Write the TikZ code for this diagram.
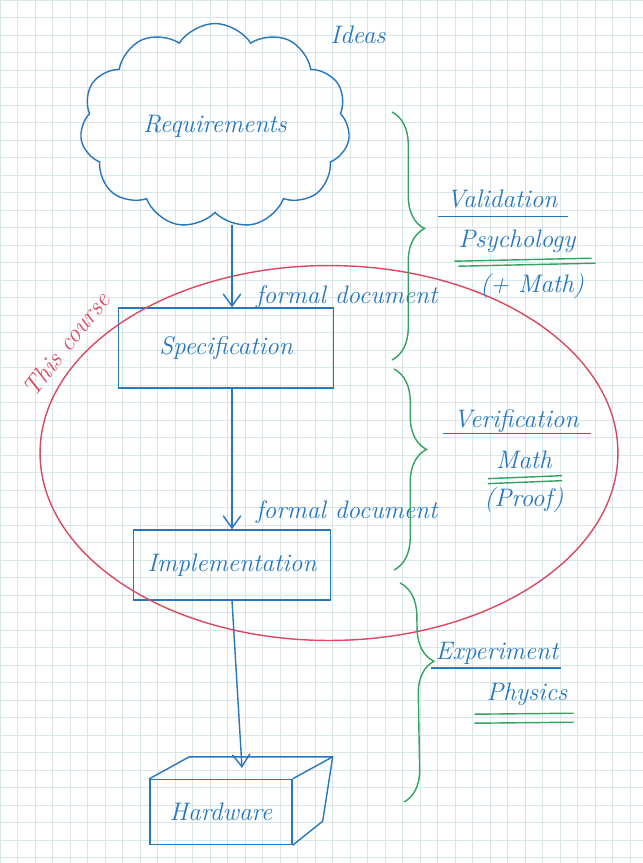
\documentclass[tikz,border=0pt]{standalone}
\usetikzlibrary{shapes.symbols,shapes.geometric,arrows.meta,decorations.pathreplacing,calc}
\definecolor{ink}{RGB}{38,118,192}
\definecolor{redink}{RGB}{218,72,98}
\definecolor{greenink}{RGB}{52,162,96}
\definecolor{paper}{RGB}{216,230,232}
\begin{document}
\begin{tikzpicture}[x=0.02cm,y=-0.02cm,
    pen/.style={draw=ink,thick},
    arr/.style={ink,thick,-{Straight Barb[length=7pt,width=10pt]}},
    box/.style={pen,rectangle,inner sep=0pt},
    txt/.style={text=ink,font=\Large\itshape},
    brc/.style={draw=greenink,thick,decorate,
        decoration={brace,amplitude=0.65cm,aspect=#1}},
    uline/.style={draw=ink,thick},
    gline/.style={draw=greenink,thick}]
    \useasboundingbox (0,0) rectangle (643,863);
    \fill[white] (0,0) rectangle (643,863);
    \draw[paper,line width=0.4pt,step=0.35cm] (0,0) grid (643,863);

    % the boxes
    \node[cloud,pen,cloud puffs=11,cloud puff arc=115,aspect=1.4,
        minimum width=5.4cm,minimum height=4.1cm,txt] (req) at (215,126)
        {Requirements};
    \node[box,txt,minimum width=4.3cm,minimum height=1.6cm] (spec)
        at (226,348) {Specification};
    \node[box,txt,minimum width=3.94cm,minimum height=1.4cm] (impl)
        at (232,565) {Implementation};
    \node[box,txt,minimum width=2.84cm,minimum height=1.3cm] (hw)
        at (221,812) {Hardware};
    \draw[pen] (hw.north west) -- ++(40,-22) -- ($(hw.north east)+(40,-22)$)
        -- ($(hw.south east)+(30,-24)$) -- (hw.south east);
    \draw[pen] (hw.north east) -- ++(40,-22);
    \coordinate (hwtop) at ($(hw.north)+(21,-11)$);

    % the course
    \node[ellipse,draw=redink,thick,minimum width=11.56cm,
        minimum height=7.5cm] (course) at (329,453) {};
    \node[text=redink,font=\Large\itshape,rotate=52] (this)
        at (66,344) {This course};

    % the arrows
    \draw[arr,shorten <=6.5pt] (req.south -| impl.north) to
        node[pos=0.89,anchor=west,xshift=3.5mm,txt]{formal document}
        (spec.north -| impl.north);
    \draw[arr] (spec.south -| impl.north) to
        node[pos=0.88,anchor=west,xshift=3.5mm,txt]{formal document}
        (impl.north);
    \draw[arr] (impl.south) -- (hwtop);
    \node[txt] (ideas) at (358,35) {Ideas};

    % the braces
    \coordinate (b1t) at (392,112);
    \coordinate (b1b) at (392,360);
    \coordinate (b2t) at (394,369);
    \coordinate (b2b) at (394,570);
    \coordinate (b3t) at (400,583);
    \coordinate (b3b) at (404,802);
    \draw[brc=0.47] (b1t) -- (b1b);
    \draw[brc=0.4] (b2t) -- (b2b);
    \draw[brc=0.36] (b3t) -- (b3b);

    % the texts
    \node[txt] (val) at (502,199) {Validation};
    \node[txt] (psy) at (517,241) {Psychology};
    \node[txt] (vmath) at (532,286) {(+ Math)};
    \node[txt] (ver) at (516,421) {Verification};
    \node[txt] (math) at (524,460) {Math};
    \node[txt] (proof) at (524,500) {(Proof)};
    \node[txt] (exp) at (497,653) {Experiment};
    \node[txt] (phys) at (527,694) {Physics};

    \draw[uline] ($(val.base west)+(-2,9)$) -- ($(val.base east)+(4,9)$);
    \draw[uline] ($(ver.base west)+(-4,6)$) -- ($(ver.base east)+(6,6)$);
    \draw[uline] ($(exp.base west)+(2,9)$) -- ($(exp.base east)+(-4,9)$);
    \draw[gline] ($(psy.base west)+(2,14)$) -- ($(psy.base east)+(10,11)$);
    \draw[gline] ($(psy.base west)+(6,19)$) -- ($(psy.base east)+(14,16)$);
    \draw[gline] ($(math.base west)+(-2,10)$) -- ($(math.base east)+(4,7)$);
    \draw[gline] ($(math.base west)+(-2,15)$) -- ($(math.base east)+(4,12)$);
    \draw[gline] ($(phys.base west)+(-6,14)$) -- ($(phys.base east)+(0,13)$);
    \draw[gline] ($(phys.base west)+(-6,23)$) -- ($(phys.base east)+(0,22)$);
\end{tikzpicture}
\end{document}
